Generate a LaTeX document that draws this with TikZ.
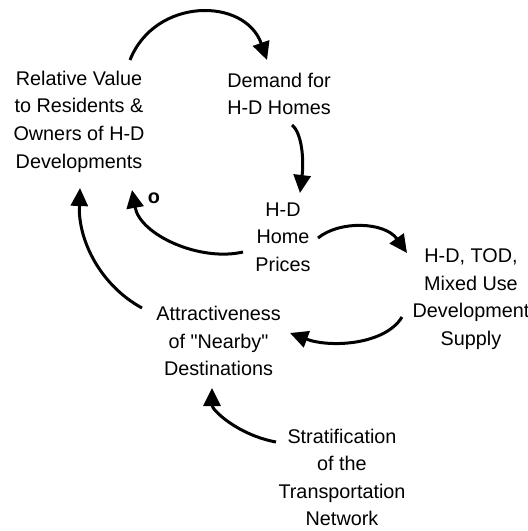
\documentclass[tikz,border=0pt]{standalone}
\usepackage{fontspec}
\setmainfont{Liberation Sans}[Ligatures=TeXOff]
\usetikzlibrary{arrows.meta,calc}
\tikzset{
  lbl/.style={align=center,inner sep=0pt,font=\fontsize{19.8}{27.6}\selectfont},
  lnk/.style={line width=3pt,-{Triangle[length=18pt,width=17pt]}},
}
\begin{document}
\begin{tikzpicture}[x=1pt,y=-1pt]
\fill[white] (0,0) rectangle (528,531);
\useasboundingbox (0,0) rectangle (528,531);
\node[lbl] (rv)  at (79,121.5) {Relative Value\\to Residents \&\\Owners of H-D\\Developments};
\node[lbl] (dem) at (279,94) {Demand for\\H-D Homes};
\node[lbl] (pr)  at (283,237) {H-D\\Home\\Prices};
\node[lbl] (sup) at (471,299) {H-D, TOD,\\Mixed Use\\Development\\Supply};
\node[lbl] (att) at (218.5,341) {Attractiveness\\of "Nearby"\\Destinations};
\node[lbl] (str) at (342,477.5) {Stratification\\of the\\Transportation\\Network};
\node[lbl,font=\fontsize{19.8}{24}\selectfont\bfseries] (o) at (154,198) {o};
% links
\draw[lnk] ($(rv.center)+(51,-61.5)$) .. controls (155,-3) and (245,-3) .. ($(dem.center)+(-12,-34)$);
\draw[lnk] ($(dem.center)+(13,31)$) .. controls (302,133) and (304,160) .. ($(pr.center)+(17,-44)$);
\draw[lnk] ($(pr.center)+(-40,15)$) .. controls (200,262) and (140,235) .. ($(rv.center)+(53,68.5)$);
\draw[lnk] ($(pr.center)+(35,1)$) .. controls (340,220) and (385,222) .. ($(sup.center)+(-64,-46)$);
\draw[lnk] ($(sup.center)+(-69,18)$) .. controls (385,345) and (330,348) .. ($(att.center)+(71.5,-8)$);
\draw[lnk] ($(att.center)+(-76.5,-33)$) .. controls (100,285) and (78,240) .. ($(rv.center)+(1,66.5)$);
\draw[lnk] ($(str.center)+(-66,-35.5)$) .. controls (238,435) and (212,410) .. ($(att.center)+(-6.5,47)$);
\end{tikzpicture}
\end{document}
